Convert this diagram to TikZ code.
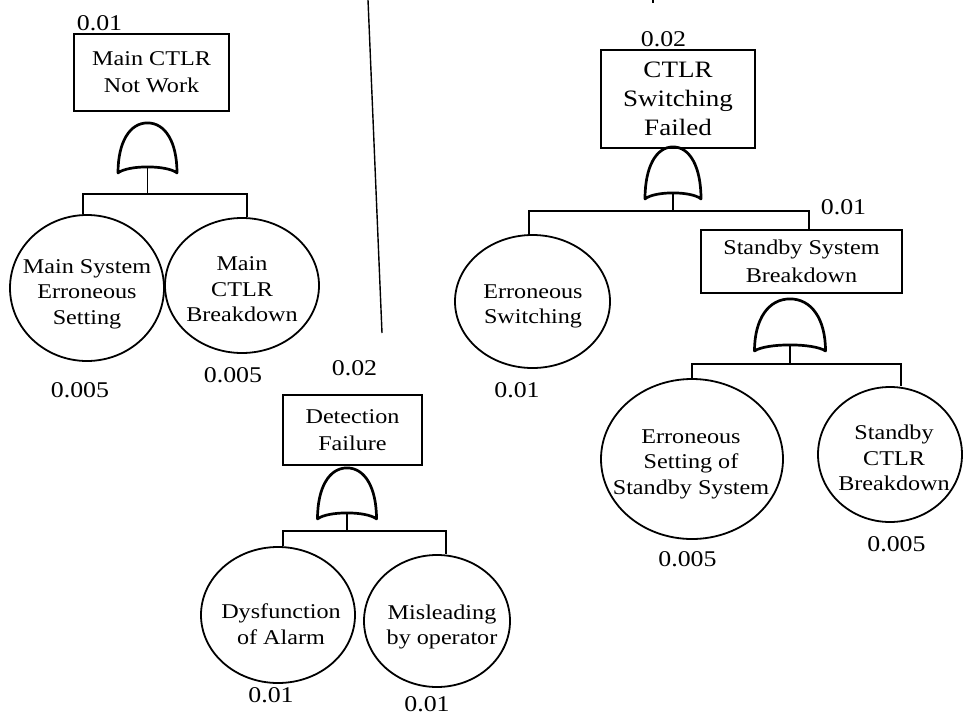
\documentclass[tikz,border=0pt]{standalone}
\usepackage{fontspec}
\setmainfont[FakeStretch=1.15]{Liberation Serif}
\usepackage{tikz}
\usetikzlibrary{shapes.geometric, calc}
% or gate: name, apex, half width, height
\newcommand{\orgate}[4]{%
  \coordinate (#1) at #2;
  \coordinate (#1-l) at ($(#1)+(-#3,#4)$);
  \coordinate (#1-r) at ($(#1)+(#3,#4)$);
  \coordinate (#1-out) at ($(#1)+(0,#4-6)$);
  \draw[gate line] (#1-l) .. controls ($(#1-l)+(0,-0.62*#4)$) and ($(#1)+(-0.6*#3,0)$) ..
    (#1) .. controls ($(#1)+(0.6*#3,0)$) and ($(#1-r)+(0,-0.62*#4)$) ..
    (#1-r) .. controls ($(#1-r)+(-0.35*#3,-8)$) and ($(#1-l)+(0.35*#3,-8)$) .. cycle;
}
\tikzset{
    gate line/.style={draw=black, line width=2.7pt, line join=round},
    tree line/.style={draw=black, line width=1.6pt},
    event box/.style={draw=black, line width=1.8pt, rectangle, inner sep=0pt,
      align=center, font=\fontsize{21}{27}\selectfont},
    basic event/.style={draw=black, line width=1.8pt, ellipse, inner sep=0pt},
    event text/.style={align=center, inner sep=0pt, font=\fontsize{21}{25.5}\selectfont},
    prob/.style={inner sep=0pt, font=\fontsize{22.5}{27}\selectfont}
}
\begin{document}
\begin{tikzpicture}[x=1pt, y=-1pt]
  \useasboundingbox (0,0) rectangle (963,715);

  % top events
  \node[event box, minimum width=155, minimum height=77] (b1) at (151.5,72.5)
  {Main CTLR\\Not Work};
  \node[event box, minimum width=139, minimum height=70] (b2) at (352.5,430)
  {Detection\\Failure};
  \node[event box, minimum width=154, minimum height=98,
    font=\fontsize{23.5}{29}\selectfont] (b3) at (678,99) {CTLR\\Switching\\Failed};
  \node[event box, minimum width=201, minimum height=63,
    font=\fontsize{21}{28}\selectfont] (b4) at (801.5,261.5) {Standby System\\Breakdown};

  % basic events
  \node[basic event, minimum width=154, minimum height=146] (e1) at (87,288) {};
  \node[event text] (e1t) at (87,294) {Main System\\Erroneous\\Setting};
  \node[basic event, minimum width=154, minimum height=135] (e2) at (242,285.5) {};
  \node[event text] (e2t) at (242,289.5) {Main\\CTLR\\Breakdown};
  \node[basic event, minimum width=154, minimum height=136] (e3) at (278,615) {};
  \node[event text] (e3t) at (281,624) {Dysfunction\\of Alarm};
  \node[basic event, minimum width=146, minimum height=132] (e4) at (437,621) {};
  \node[event text] (e4t) at (442,627) {Misleading\\by operator};
  \node[basic event, minimum width=155, minimum height=133] (e5) at (532.5,301.5) {};
  \node[event text] (e5t) at (533,306.5) {Erroneous\\Switching};
  \node[basic event, minimum width=182, minimum height=160] (e6) at (692,459) {};
  \node[event text] (e6t) at (691,464) {Erroneous\\Setting of\\Standby System};
  \node[basic event, minimum width=144, minimum height=135] (e7) at (890,454.5) {};
  \node[event text] (e7t) at (894,458) {Standby\\CTLR\\Breakdown};

  % probabilities
  \node[prob] (p1) at (99.5,23) {0.01};
  \node[prob] (p2) at (354.5,368) {0.02};
  \node[prob] (p3) at (663.5,39.5) {0.02};
  \node[prob] (p4) at (843.5,207.5) {0.01};
  \node[prob] (q1) at (80,390) {0.005};
  \node[prob] (q2) at (233,375.5) {0.005};
  \node[prob] (q3) at (271,695) {0.01};
  \node[prob] (q4) at (427,704.5) {0.01};
  \node[prob] (q5) at (517,390.5) {0.01};
  \node[prob] (q6) at (687.5,559.5) {0.005};
  \node[prob] (q7) at (896.5,544.5) {0.005};

  % gates
  \orgate{g1}{([xshift=-4,yshift=-11]b1.south)}{29.5}{50}
  \orgate{g2}{([xshift=-5.5,yshift=-2]b2.south)}{29.5}{51}
  \orgate{g3}{([xshift=-5,yshift=2]b3.south)}{28}{52}
  \orgate{g4}{([xshift=-11.5,yshift=-5]b4.south)}{35.5}{52}

  % links
  \coordinate (g1bar) at ([yshift=-27]g1-out);
  \coordinate (g2bar) at ([yshift=-18]g2-out);
  \coordinate (g3bar) at ([yshift=-18]g3-out);
  \coordinate (g4bar) at ([yshift=-19]g4-out);
  \draw[tree line] (g1-out) -- (g1bar);
  \draw[tree line] ([xshift=-4]e1.north) |- (g1bar) -| ([xshift=5]e2.north);
  \draw[tree line] (g2-out) -- (g2bar);
  \draw[tree line] ([xshift=5]e3.north) |- (g2bar) -| ([xshift=9]e4.north);
  \draw[tree line] (g3-out) -- (g3bar);
  \draw[tree line] ([xshift=-3.5]e5.north) |- (g3bar) -| ([xshift=7.5]b4.north);
  \draw[tree line] (g4-out) -- (g4bar);
  \draw[tree line] (e6.north) |- (g4bar) -| ([xshift=11]e7.north);

  % stray strokes
  \coordinate (cut top) at (368,0);
  \coordinate (cut bot) at (382,333);
  \draw[tree line, line width=1.4pt] (cut top) -- (cut bot);
  \coordinate (tick top) at (653,0);
  \coordinate (tick bot) at (653,2.5);
  \draw[tree line, line width=2pt] (tick top) -- (tick bot);

\end{tikzpicture}
\end{document}
